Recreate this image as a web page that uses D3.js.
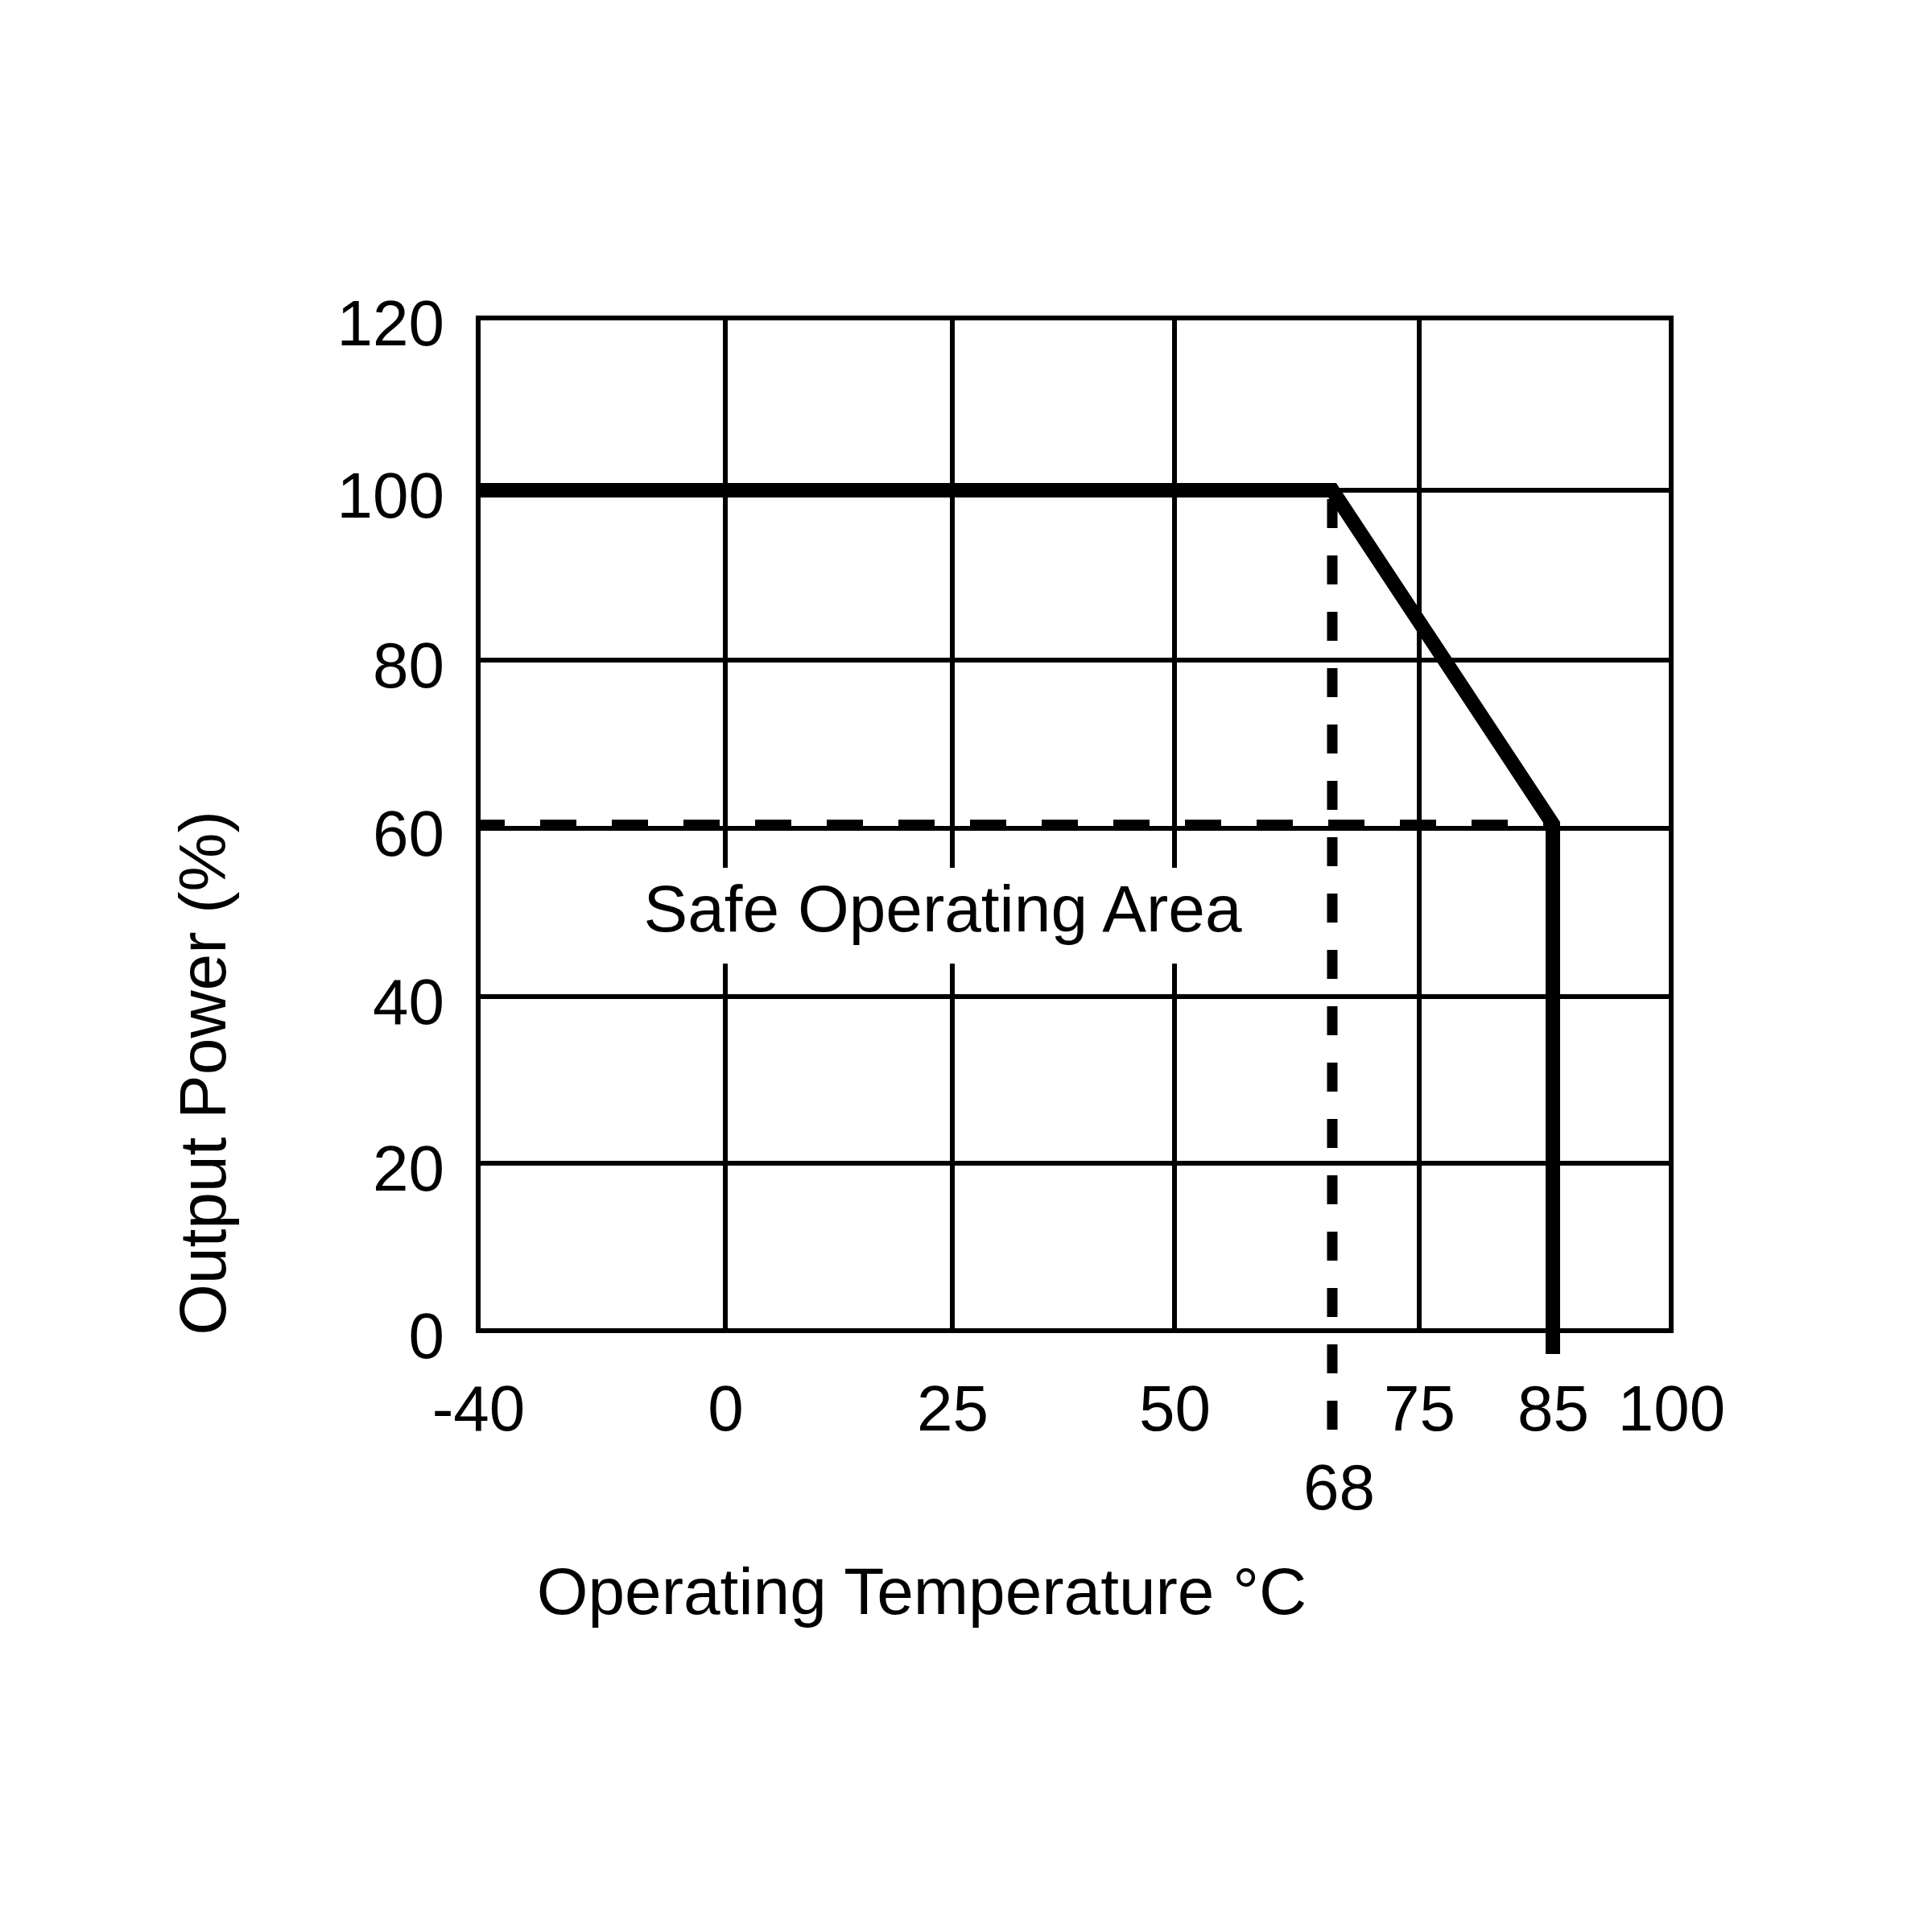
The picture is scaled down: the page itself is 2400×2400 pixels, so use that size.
<!DOCTYPE html>
<meta charset="utf-8">
<style>
body {
  margin: 0;
  background: #fff;
}
text {
  font-family: "Liberation Sans", Arial, Helvetica, sans-serif;
  font-size: 80px;
  fill: #000;
}
.grid line {
  stroke: #000;
  stroke-width: 6;
}
.frame {
  fill: none;
  stroke: #000;
  stroke-width: 6;
}
.curve {
  fill: none;
  stroke: #000;
  stroke-width: 18;
}
.dash-h {
  stroke: #000;
  stroke-width: 11;
  stroke-dasharray: 45,44;
}
.dash-v {
  stroke: #000;
  stroke-width: 13;
  stroke-dasharray: 36,34;
}
.title {
  font-size: 82px;
}
</style>
<svg id="svg" width="2400" height="2400"></svg>
<script src="https://cdn.jsdelivr.net/npm/d3@7"></script>
<script>

// tick labels as printed on the chart
var tempTicks = [-40, 0, 25, 50, 75, 85, 100];
var tempGrid = [0, 25, 50, 75];
var tempMarks = [68];
var powerTicks = [0, 20, 40, 60, 80, 100, 120];
var powerGrid = [20, 40, 60, 80, 100];

// derating curve
var curveTemp = [-40, 68, 85, 85];
var curvePower = [100, 100, 60.5, 0];
var minPower = 60.5;
var kneeTemp = 68;

var svg = d3.select("svg");

// the drawing is not to scale, so the scales are piecewise
var x = d3.scaleLinear()
    .domain([-40, 0, 25, 50, 68, 75, 85, 100])
    .range([594, 901, 1183, 1459, 1655, 1763, 1929, 2076]);

var y = d3.scaleLinear()
    .domain([0, 20, 40, 60, 80, 100, 120])
    .range([1653, 1445, 1238, 1029, 820, 609, 395]);

var x0 = x(-40), x1 = x(100), y0 = y(0), y1 = y(120);
var plain = function(d) { return String(d); };  // keep the ascii hyphen

// grid
var grid = svg.append("g").attr("class", "grid");
grid.selectAll("line.v")
    .data(tempGrid)
  .enter().append("line")
    .attr("class", "v")
    .attr("x1", x).attr("x2", x)
    .attr("y1", y1).attr("y2", y0);
grid.selectAll("line.h")
    .data(powerGrid)
  .enter().append("line")
    .attr("class", "h")
    .attr("x1", x0).attr("x2", x1)
    .attr("y1", y).attr("y2", y);

// label box knocks out the grid behind it
var soaLabel = svg.append("text")
    .attr("class", "title")
    .attr("x", (x(25) - 12))
    .attr("y", y(60) + 128)
    .attr("text-anchor", "middle")
    .text("Safe Operating Area");
var bb = soaLabel.node().getBBox();
svg.insert("rect", "text")
    .attr("x", bb.x - 30)
    .attr("y", bb.y - 5)
    .attr("width", bb.width + 60)
    .attr("height", bb.height + 28)
    .attr("fill", "#fff");

svg.append("rect")
    .attr("class", "frame")
    .attr("x", x0).attr("y", y1)
    .attr("width", x1 - x0).attr("height", y0 - y1);

// 60% dashed level
svg.append("line")
    .attr("class", "dash-h")
    .attr("x1", x0).attr("x2", x(85))
    .attr("y1", y(minPower)).attr("y2", y(minPower))
    .style("stroke-dashoffset", 12);

// 68 degree dashed marker
svg.append("line")
    .attr("class", "dash-v")
    .attr("x1", x(kneeTemp)).attr("x2", x(kneeTemp))
    .attr("y1", y(100)).attr("y2", y0 + 134)
    .style("stroke-dashoffset", 59);

var pts = curveTemp.map(function(t, i) { return [t, curvePower[i]]; });
var line = d3.line()
    .x(function(d) { return x(d[0]); })
    .y(function(d) { return y(d[1]); });

svg.append("path")
    .attr("class", "curve")
    .attr("d", line(pts));
// curve runs a bit past the axis
svg.append("line")
    .attr("class", "curve")
    .attr("x1", x(85)).attr("x2", x(85))
    .attr("y1", y0).attr("y2", y0 + 29);

// axes (labels only)
var xAxis = svg.append("g")
    .attr("transform", "translate(0," + y0 + ")")
    .call(d3.axisBottom(x).tickValues(tempTicks).tickSize(0).tickPadding(0).tickFormat(plain));
xAxis.selectAll("text").attr("dy", null).attr("y", 124);

var xAxis2 = svg.append("g")
    .attr("transform", "translate(0," + y0 + ")")
    .call(d3.axisBottom(x).tickValues(tempMarks).tickSize(0).tickFormat(plain));
xAxis2.selectAll("text").attr("dy", null).attr("y", 222).attr("dx", 8);

var yAxis = svg.append("g")
    .attr("transform", "translate(" + x0 + ",0)")
    .call(d3.axisLeft(y).tickValues(powerTicks).tickSize(0).tickFormat(plain));
yAxis.selectAll("text").attr("dy", null).attr("x", -42).attr("y", 33);

svg.selectAll(".domain").remove();
svg.selectAll(".tick text")
    .attr("font-size", null)
    .attr("font-family", null)
    .attr("fill", "#000");

svg.append("text")
    .attr("class", "title")
    .attr("transform", "translate(280," + (y(60) + 304) + ") rotate(-90)")
    .attr("text-anchor", "middle")
    .text("Output Power (%)");

svg.append("text")
    .attr("class", "title")
    .attr("x", 1145)
    .attr("y", 2005)
    .attr("text-anchor", "middle")
    .text("Operating Temperature \u00B0C");

</script>
